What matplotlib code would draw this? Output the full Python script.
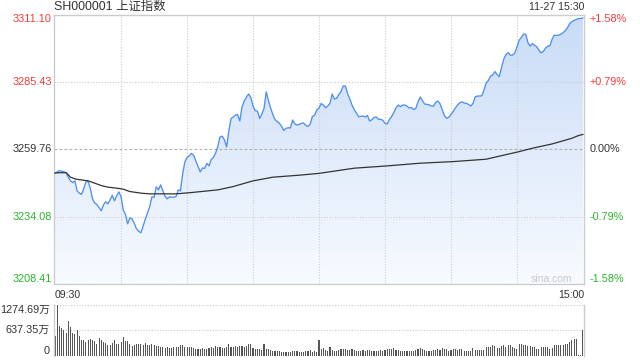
import numpy as np
import matplotlib
matplotlib.use("Agg")
import matplotlib.pyplot as plt
from matplotlib.patches import Polygon
from matplotlib.colors import LinearSegmentedColormap
from matplotlib.transforms import blended_transform_factory

plt.rcParams['font.family'] = ['Liberation Sans', 'Noto Sans CJK SC', 'DejaVu Sans']

# --- labels ---
title = "SH000001 上证指数"
stamp = "11-27 15:30"
prev_close = 3259.76
price_ticks = [3311.10, 3285.43, 3259.76, 3234.08, 3208.41]
price_labels = ["3311.10", "3285.43", "3259.76", "3234.08", "3208.41"]
pct_labels = ["+1.58%", "+0.79%", "0.00%", "-0.79%", "-1.58%"]
vol_ticks = [1274.69, 637.35, 0]
vol_labels = ["1274.69万", "637.35万", "0"]
time_labels = ["09:30", "15:00"]

# --- minute prices, 09:30 .. 15:00 (241 points) ---
price = [
    3250.63, 3251.13, 3251.62, 3251.40, 3251.13, 3250.86, 3249.11, 3247.71, 3247.06, 3247.71,
    3243.90, 3243.03, 3242.57, 3244.66, 3247.33, 3247.52, 3244.93, 3240.86, 3239.34, 3238.65,
    3237.44, 3236.30, 3238.58, 3239.72, 3238.96, 3240.48, 3242.19, 3240.10, 3242.00, 3243.52,
    3241.62, 3236.68, 3234.89, 3231.35, 3233.63, 3233.25, 3231.54, 3229.45, 3228.50, 3227.93,
    3230.40, 3233.06, 3235.42, 3237.82, 3241.62, 3241.43, 3245.42, 3244.28, 3246.18, 3243.90,
    3241.81, 3240.86, 3241.62, 3241.43, 3241.51, 3241.73, 3244.28, 3243.90, 3250.37, 3254.93,
    3256.64, 3257.21, 3258.16, 3257.40, 3255.31, 3253.22, 3251.13, 3252.65, 3252.46, 3254.36,
    3253.41, 3255.88, 3256.64, 3258.35, 3260.83, 3264.44, 3264.74, 3263.30, 3260.64, 3266.72,
    3271.47, 3272.04, 3272.81, 3273.00, 3270.52, 3275.96, 3278.13, 3279.65, 3280.79, 3279.46,
    3276.23, 3274.44, 3274.33, 3271.47, 3273.19, 3275.28, 3281.67, 3278.32, 3275.47, 3273.00,
    3271.09, 3270.33, 3269.65, 3268.43, 3266.91, 3267.75, 3267.94, 3267.86, 3270.90, 3269.38,
    3269.00, 3269.19, 3269.65, 3269.76, 3268.81, 3268.43, 3269.38, 3272.24, 3272.69, 3274.71,
    3275.47, 3277.18, 3276.61, 3275.58, 3276.23, 3277.26, 3280.79, 3278.89, 3279.16, 3280.60,
    3281.74, 3283.83, 3283.83, 3280.98, 3278.89, 3276.61, 3274.90, 3273.57, 3272.16, 3272.31,
    3272.43, 3272.04, 3272.61, 3270.52, 3270.98, 3271.85, 3272.04, 3271.17, 3271.17, 3270.79,
    3269.65, 3269.38, 3271.09, 3272.16, 3273.76, 3275.47, 3276.61, 3275.96, 3276.61, 3276.61,
    3276.23, 3275.47, 3275.66, 3274.90, 3275.28, 3277.75, 3279.65, 3278.32, 3276.99, 3276.87,
    3276.72, 3276.23, 3276.11, 3277.56, 3278.13, 3277.18, 3274.90, 3272.61, 3271.55, 3271.93,
    3273.07, 3274.14, 3275.47, 3276.61, 3277.48, 3277.83, 3277.37, 3277.26, 3276.80, 3276.23,
    3277.18, 3279.65, 3280.03, 3280.03, 3280.11, 3282.31, 3284.98, 3285.93, 3287.64, 3288.02,
    3289.35, 3288.21, 3287.45, 3290.87, 3294.10, 3295.81, 3296.57, 3295.62, 3295.62, 3296.38,
    3298.67, 3301.33, 3302.35, 3303.61, 3303.61, 3300.38, 3299.05, 3300.00, 3299.43, 3298.86,
    3297.52, 3296.50, 3297.03, 3298.29, 3299.05, 3299.24, 3301.71, 3303.23, 3303.12, 3303.23,
    3303.61, 3304.18, 3304.94, 3306.08, 3307.68, 3308.44, 3308.86, 3309.20, 3309.58, 3309.58,
    3309.78,
]

# --- average price line (read at sampled minutes) ---
avg_minute = [0, 5, 7, 9.5, 15, 18, 21, 24, 28, 31, 34, 39, 43, 55, 62, 74, 81, 90, 99,
              111, 120, 136, 151, 166, 181, 196, 211, 217, 226, 235, 237.5, 239, 240]
avg_price = [3250.75, 3250.86, 3249.11, 3248.35, 3247.71, 3246.83, 3245.92, 3245.31,
             3244.93, 3244.55, 3243.64, 3243.03, 3242.76, 3242.76, 3243.26, 3244.28,
             3245.54, 3247.71, 3249.11, 3249.87, 3250.56, 3252.54, 3253.41, 3254.44,
             3255.05, 3255.96, 3258.85, 3260.14, 3261.78, 3263.94, 3264.82, 3265.20,
             3265.39]

# --- minute volume, 万 (241 bars) ---
volume = [
    484, 1274.69, 742, 701, 637, 580, 862, 717, 556, 540,
    637, 500, 379, 395, 339, 395, 419, 395, 363, 298,
    443, 395, 339, 314, 258, 258, 314, 379, 298, 282,
    339, 459, 363, 355, 298, 234, 274, 290, 290, 298,
    258, 314, 274, 258, 282, 258, 234, 234, 218, 218,
    177, 202, 193, 177, 202, 202, 202, 258, 258, 218,
    218, 218, 218, 177, 161, 153, 161, 177, 153, 161,
    177, 202, 177, 234, 218, 202, 177, 177, 218, 282,
    218, 218, 234, 218, 234, 234, 202, 234, 298, 282,
    177, 153, 153, 153, 137, 298, 161, 153, 137, 121,
    113, 113, 113, 97, 81, 81, 97, 97, 113, 121,
    113, 97, 97, 97, 113, 121, 137, 97, 121,
    97, 395, 153, 177, 137, 113, 218, 137, 121, 121,
    137, 153, 153, 153, 137, 137, 153, 137, 121, 121,
    113, 137, 121, 137, 137, 113, 113, 121, 121, 137,
    121, 137, 153, 153, 153, 177, 137, 137, 121, 121,
    113, 121, 113, 121, 113, 137, 153, 193, 153, 137,
    113, 121, 121, 137, 137, 153, 137, 177, 153, 153,
    121, 137, 153, 153, 137, 153, 153, 121, 121, 121,
    121, 177, 137, 137, 137, 137, 137, 202, 218, 218,
    258, 234, 177, 177, 234, 258, 202, 258, 258, 218,
    177, 153, 282, 282, 274, 274, 234, 234, 218, 202,
    169, 153, 218, 218, 218, 202, 169, 177, 258, 258,
    258, 258, 258, 298, 298, 339, 379, 419, 419, 16,
    16, 637,
]

RED = '#f23b3b'
GREEN = '#2ab52a'
DARK = '#333333'
BORDER = '#cccccc'
LINE = '#4e8ff0'

ymin, ymax = price_ticks[-1], price_ticks[0]
minutes = np.arange(len(price))

fig = plt.figure(figsize=(6.4, 3.6), dpi=100)
ax = fig.add_axes([54 / 640, 76 / 360, 530 / 640, 269.5 / 360])
vax = fig.add_axes([54 / 640, 4.5 / 360, 530 / 640, 50.5 / 360])

# gradient fill under the price line
cmap = LinearSegmentedColormap.from_list('fill', ['#f8fbff', '#c8dbf7'])
grad = np.linspace(0, 1, 256).reshape(-1, 1)
im = ax.imshow(grad, extent=[-0.5, 240.5, ymin, ymax], origin='lower',
               aspect='auto', cmap=cmap, zorder=1)
verts = list(zip(minutes, price)) + [(minutes[-1], ymin), (minutes[0], ymin)]
clip = Polygon(verts, closed=True, facecolor='none', edgecolor='none')
ax.add_patch(clip)
im.set_clip_path(clip)

ax.plot(minutes, price, color=LINE, lw=0.95, zorder=3)
ax.plot(avg_minute, avg_price, color=DARK, lw=0.9, zorder=3)

ax.set_xlim(-0.5, 240.5)
ax.set_ylim(ymin, ymax)
ax.set_xticks(np.arange(30, 240, 30))
ax.set_yticks([price_ticks[1], price_ticks[3]])
ax.grid(True, color=BORDER, ls=(0, (1, 1.5)), lw=0.8, zorder=0)
ax.axhline(prev_close, color='#b0b0b0', ls=(0, (2.5, 2)), lw=0.8, zorder=2)
ax.tick_params(length=0, labelleft=False, labelbottom=False)
for s in ax.spines.values():
    s.set_color(BORDER)
    s.set_linewidth(1.0)

tr = blended_transform_factory(ax.transAxes, ax.transData)
colors = [RED, RED, DARK, GREEN, GREEN]
vas = ['top', 'center', 'center', 'center', 'bottom']
for val, lab, pct, c, va in zip(price_ticks, price_labels, pct_labels, colors, vas):
    ax.text(-0.004, val, lab, transform=tr, ha='right', va=va, color=c, fontsize=7.8)
    ax.text(1.011, val, pct, transform=tr, ha='left', va=va, color=c, fontsize=7.8)

ax.text(0.977, 0.019, "sina.com", transform=ax.transAxes, ha='right', va='center',
        color='#c8c8c8', fontsize=7.5)

# volume panel
vax.bar(np.arange(len(volume)), volume, width=0.5, color='#555555', linewidth=0)
vax.set_xlim(-0.5, 240.5)
vax.set_ylim(0, vol_ticks[0])
vax.set_xticks([])
vax.set_yticks([])
for v in vol_ticks[:2]:
    vax.axhline(v, color=BORDER, ls=(0, (1, 1.5)), lw=0.8, clip_on=False, zorder=0)
vax.spines['top'].set_visible(False)
vax.spines['bottom'].set_visible(False)
for k in ('left', 'right'):
    vax.spines[k].set_color(BORDER)
    vax.spines[k].set_linewidth(1.0)
vtr = blended_transform_factory(vax.transAxes, vax.transData)
for val, lab, va in zip(vol_ticks, vol_labels, ['top', 'center', 'bottom']):
    vax.text(-0.008, val, lab, transform=vtr, ha='right', va=va, color=DARK, fontsize=7.8)

# header and time labels
fig.text(54 / 640, 1 - 7 / 360, title, ha='left', va='center', color=DARK, fontsize=8.9)
fig.text(584 / 640, 1 - 7 / 360, stamp, ha='right', va='center', color=DARK, fontsize=7.6)
fig.text(55 / 640, 1 - 295 / 360, time_labels[0], ha='left', va='center', color=DARK, fontsize=7.6)
fig.text(584 / 640, 1 - 295 / 360, time_labels[1], ha='right', va='center', color=DARK, fontsize=7.6)

fig.savefig("out.png", dpi=100)
